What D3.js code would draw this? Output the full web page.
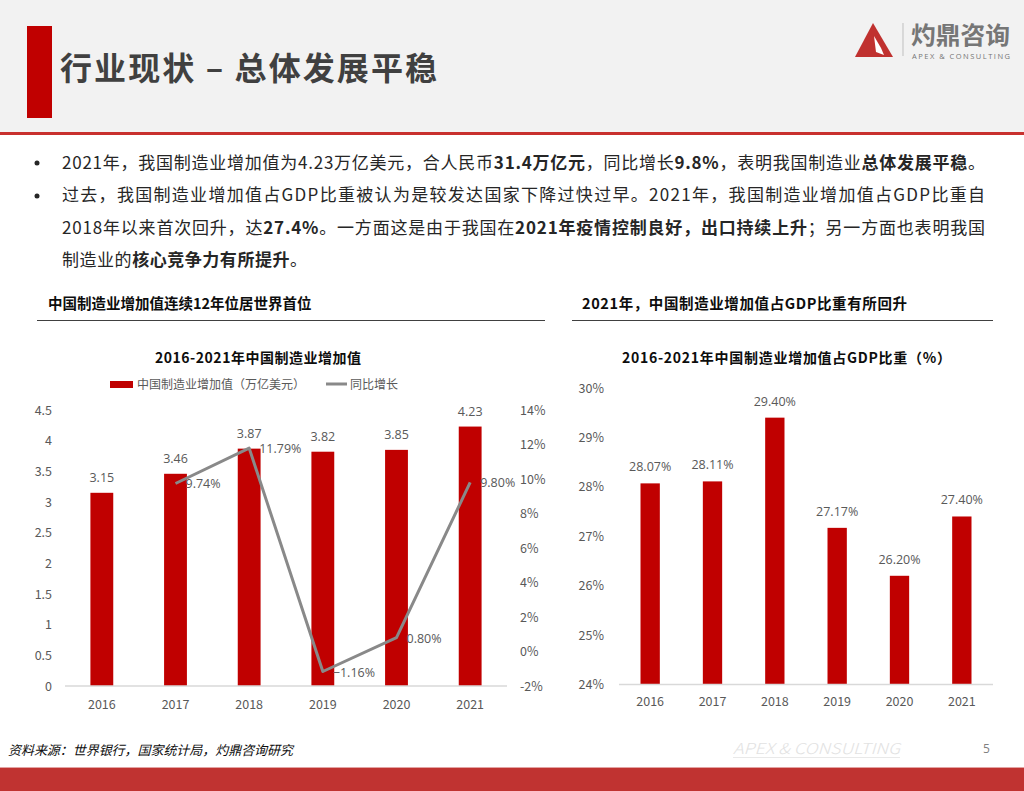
<!DOCTYPE html>
<html><head><meta charset="utf-8">
<script src="https://cdn.jsdelivr.net/npm/d3@7"></script>
<style>
body{margin:0;background:#fff;}
svg{display:block;}
text{font-family:"Noto Sans CJK SC","Noto Sans",sans-serif;}
.num{font-family:"Open Sans","Noto Sans CJK SC",sans-serif;}
</style></head>
<body>
<svg id="c" width="1024" height="791"></svg>
<script>
const years = ["2016","2017","2018","2019","2020","2021"];
const valueAdded = [3.15,3.46,3.87,3.82,3.85,4.23];
const growth = [null,9.74,11.79,-1.16,0.80,9.80];
const gdpShare = [28.07,28.11,29.40,27.17,26.20,27.40];
const leftTicks = [0,0.5,1,1.5,2,2.5,3,3.5,4,4.5];
const rightTicks = [-2,0,2,4,6,8,10,12,14];
const shareTicks = [24,25,26,27,28,29,30];

const svg = d3.select("#c");
const RED = "#c00000", GRAY="#595959";

// header
svg.append("rect").attr("x",0).attr("y",0).attr("width",1024).attr("height",132).attr("fill","#f2f2f2");
svg.append("rect").attr("x",27).attr("y",26).attr("width",25).attr("height",92).attr("fill",RED);
svg.append("text").attr("x",60).attr("y",80).attr("font-size",32).attr("font-weight","bold").attr("fill","#404040").attr("textLength",377).attr("lengthAdjust","spacing").text("行业现状 – 总体发展平稳");
svg.append("rect").attr("x",0).attr("y",132).attr("width",1024).attr("height",3).attr("fill","#c8302e");
// logo
svg.append("polygon").attr("points","873,23 855,57 893,57").attr("fill","#c0312f");
svg.append("polygon").attr("points","874,36 881,48 884,55 876,52").attr("fill","#fff");
svg.append("line").attr("x1",903).attr("x2",903).attr("y1",23).attr("y2",56).attr("stroke","#bfbfbf").attr("stroke-width",1);
svg.append("text").attr("x",911).attr("y",44).attr("font-size",24).attr("font-weight","bold").attr("fill","#767676").attr("textLength",99).attr("lengthAdjust","spacingAndGlyphs").text("灼鼎咨询");
svg.append("text").attr("x",912).attr("y",59).attr("font-size",7.5).attr("fill","#767676").attr("textLength",98).attr("lengthAdjust","spacing").attr("class","num").text("APEX & CONSULTING");

// bullets
const lines = [
  {y:169, fit:923, parts:[["2021年，我国制造业增加值为4.23万亿美元，合人民币",0],["31.4万亿元",1],["，同比增长",0],["9.8%",1],["，表明我国制造业",0],["总体发展平稳",1],["。",0]]},
  {y:201, fit:923, parts:[["过去，我国制造业增加值占GDP比重被认为是较发达国家下降过快过早。2021年，我国制造业增加值占GDP比重自",0]]},
  {y:234, fit:923, parts:[["2018年以来首次回升，达",0],["27.4%",1],["。一方面这是由于我国在",0],["2021年疫情控制良好，出口持续上升",1],["；另一方面也表明我国",0]]},
  {y:266, fit:245, parts:[["制造业的",0],["核心竞争力有所提升",1],["。",0]]}
];
[0,1].forEach(i=>svg.append("circle").attr("cx",37).attr("cy",[163,196][i]).attr("r",2.5).attr("fill","#262626"));
lines.forEach(l=>{
  const t = svg.append("text").attr("x",62).attr("y",l.y).attr("font-size",17).attr("fill","#262626");
  l.parts.forEach(p=>t.append("tspan").attr("font-weight",p[1]?"bold":"normal").text(p[0]));
  t.attr("textLength",l.fit).attr("lengthAdjust","spacing");
});

// section titles
svg.append("text").attr("x",48).attr("y",309).attr("font-size",14.5).attr("font-weight","bold").attr("fill","#0d0d0d").text("中国制造业增加值连续12年位居世界首位");
svg.append("line").attr("x1",37).attr("x2",545).attr("y1",320.5).attr("y2",320.5).attr("stroke","#404040");
svg.append("text").attr("x",582).attr("y",309).attr("font-size",14.5).attr("font-weight","bold").attr("fill","#0d0d0d").attr("textLength",325).attr("lengthAdjust","spacing").text("2021年，中国制造业增加值占GDP比重有所回升");
svg.append("line").attr("x1",572).attr("x2",993).attr("y1",320.5).attr("y2",320.5).attr("stroke","#404040");

// ---- left chart
svg.append("text").attr("x",155).attr("y",363).attr("font-size",14).attr("font-weight","bold").attr("fill","#0d0d0d").attr("textLength",206).attr("lengthAdjust","spacing").text("2016-2021年中国制造业增加值");
svg.append("rect").attr("x",110).attr("y",381).attr("width",23).attr("height",7).attr("fill",RED);
svg.append("text").attr("x",137).attr("y",389).attr("font-size",12).attr("fill",GRAY).text("中国制造业增加值（万亿美元）");
svg.append("line").attr("x1",326).attr("x2",347).attr("y1",384).attr("y2",384).attr("stroke","#898989").attr("stroke-width",3);
svg.append("text").attr("x",350).attr("y",389).attr("font-size",12).attr("fill",GRAY).text("同比增长");

const x1 = d3.scaleBand().domain(years).range([65,507]).paddingInner(0.69).paddingOuter(0.345);
const yL = d3.scaleLinear().domain([0,4.5]).range([686,410]);
const yR = d3.scaleLinear().domain([-2,14]).range([686,410]);

const gL = svg.append("g").attr("transform","translate(52,0)").attr("class","num")
  .call(d3.axisLeft(yL).tickValues(leftTicks).tickSize(0).tickPadding(0).tickFormat(d=>d3.format("")(d)));
const gR = svg.append("g").attr("transform","translate(520,0)").attr("class","num")
  .call(d3.axisRight(yR).tickValues(rightTicks).tickSize(0).tickPadding(0).tickFormat(d=>d+"%"));
const gX1 = svg.append("g").attr("transform","translate(0,686)").attr("class","num")
  .call(d3.axisBottom(x1).tickSize(0).tickPadding(14));
[gL,gR,gX1].forEach(g=>{g.select(".domain").remove();g.selectAll("text").attr("font-size",12.5).attr("fill",GRAY).attr("font-family","Open Sans, sans-serif");});

svg.selectAll(".barL").data(valueAdded).join("rect").attr("class","barL")
  .attr("x",(d,i)=>x1(years[i])).attr("width",x1.bandwidth())
  .attr("y",d=>yL(d)).attr("height",d=>yL(0)-yL(d)).attr("fill",RED);
svg.append("line").attr("x1",65).attr("x2",507).attr("y1",686).attr("y2",686).attr("stroke","#d9d9d9").attr("stroke-width",1.5);
svg.selectAll(".lblL").data(valueAdded).join("text").attr("class","lblL num")
  .attr("x",(d,i)=>x1(years[i])+x1.bandwidth()/2).attr("y",d=>yL(d)-11)
  .attr("text-anchor","middle").attr("font-size",12.5).attr("fill",GRAY).text(d=>d3.format(".2f")(d));

const gData = growth.map((v,i)=>({y:years[i],v})).filter(d=>d.v!==null);
const line = d3.line().x(d=>x1(d.y)+x1.bandwidth()/2).y(d=>yR(d.v));
svg.append("path").datum(gData).attr("d",line).attr("fill","none").attr("stroke","#898989").attr("stroke-width",3).attr("stroke-linejoin","round");
svg.selectAll(".lblG").data(gData).join("text").attr("class","lblG num")
  .attr("x",d=>x1(d.y)+x1.bandwidth()/2+10).attr("y",d=>yR(d.v)+5)
  .attr("font-size",12.5).attr("fill",GRAY).text(d=>d3.format(".2f")(d.v)+"%");

// ---- right chart
svg.append("text").attr("x",622).attr("y",363).attr("font-size",14).attr("font-weight","bold").attr("fill","#0d0d0d").attr("textLength",329).attr("lengthAdjust","spacing").text("2016-2021年中国制造业增加值占GDP比重（%）");
const x2 = d3.scaleBand().domain(years).range([619,993]).paddingInner(0.69).paddingOuter(0.345);
const yS = d3.scaleLinear().domain([24,30]).range([684.5,388]);
const gS = svg.append("g").attr("transform","translate(604,0)").attr("class","num")
  .call(d3.axisLeft(yS).tickValues(shareTicks).tickSize(0).tickPadding(0).tickFormat(d=>d+"%"));
const gX2 = svg.append("g").attr("transform","translate(0,684.5)").attr("class","num")
  .call(d3.axisBottom(x2).tickSize(0).tickPadding(13));
[gS,gX2].forEach(g=>{g.select(".domain").remove();g.selectAll("text").attr("font-size",12.5).attr("fill",GRAY).attr("font-family","Open Sans, sans-serif");});
svg.selectAll(".barS").data(gdpShare).join("rect").attr("class","barS")
  .attr("x",(d,i)=>x2(years[i])).attr("width",x2.bandwidth())
  .attr("y",d=>yS(d)).attr("height",d=>yS(24)-yS(d)).attr("fill",RED);
svg.append("line").attr("x1",619).attr("x2",993).attr("y1",684.5).attr("y2",684.5).attr("stroke","#d9d9d9").attr("stroke-width",1.5);
svg.selectAll(".lblS").data(gdpShare).join("text").attr("class","lblS num")
  .attr("x",(d,i)=>x2(years[i])+x2.bandwidth()/2).attr("y",d=>yS(d)-12)
  .attr("text-anchor","middle").attr("font-size",12.5).attr("fill",GRAY).text(d=>d3.format(".2f")(d)+"%");

// footer
svg.append("text").attr("x",8).attr("y",755).attr("font-size",13).attr("font-style","italic").attr("fill","#0d0d0d").attr("textLength",285).attr("lengthAdjust","spacing").text("资料来源：世界银行，国家统计局，灼鼎咨询研究");
svg.append("text").attr("x",733).attr("y",754).attr("font-size",15).attr("font-style","italic").attr("font-weight",300).attr("fill","#e2e2e2").attr("font-family","Liberation Sans Narrow, Liberation Sans, sans-serif").attr("textLength",167).attr("lengthAdjust","spacingAndGlyphs").text("APEX & CONSULTING");
svg.append("line").attr("x1",733).attr("x2",900).attr("y1",757.5).attr("y2",757.5).attr("stroke","#e9e9e9");
svg.append("text").attr("x",983).attr("y",753).attr("font-size",12).attr("fill","#808080").attr("class","num").text("5");
svg.append("rect").attr("x",0).attr("y",767).attr("width",1024).attr("height",1).attr("fill","#e3a3a3");
svg.append("rect").attr("x",0).attr("y",768).attr("width",1024).attr("height",23).attr("fill","#c03331");
</script>
</body></html>
